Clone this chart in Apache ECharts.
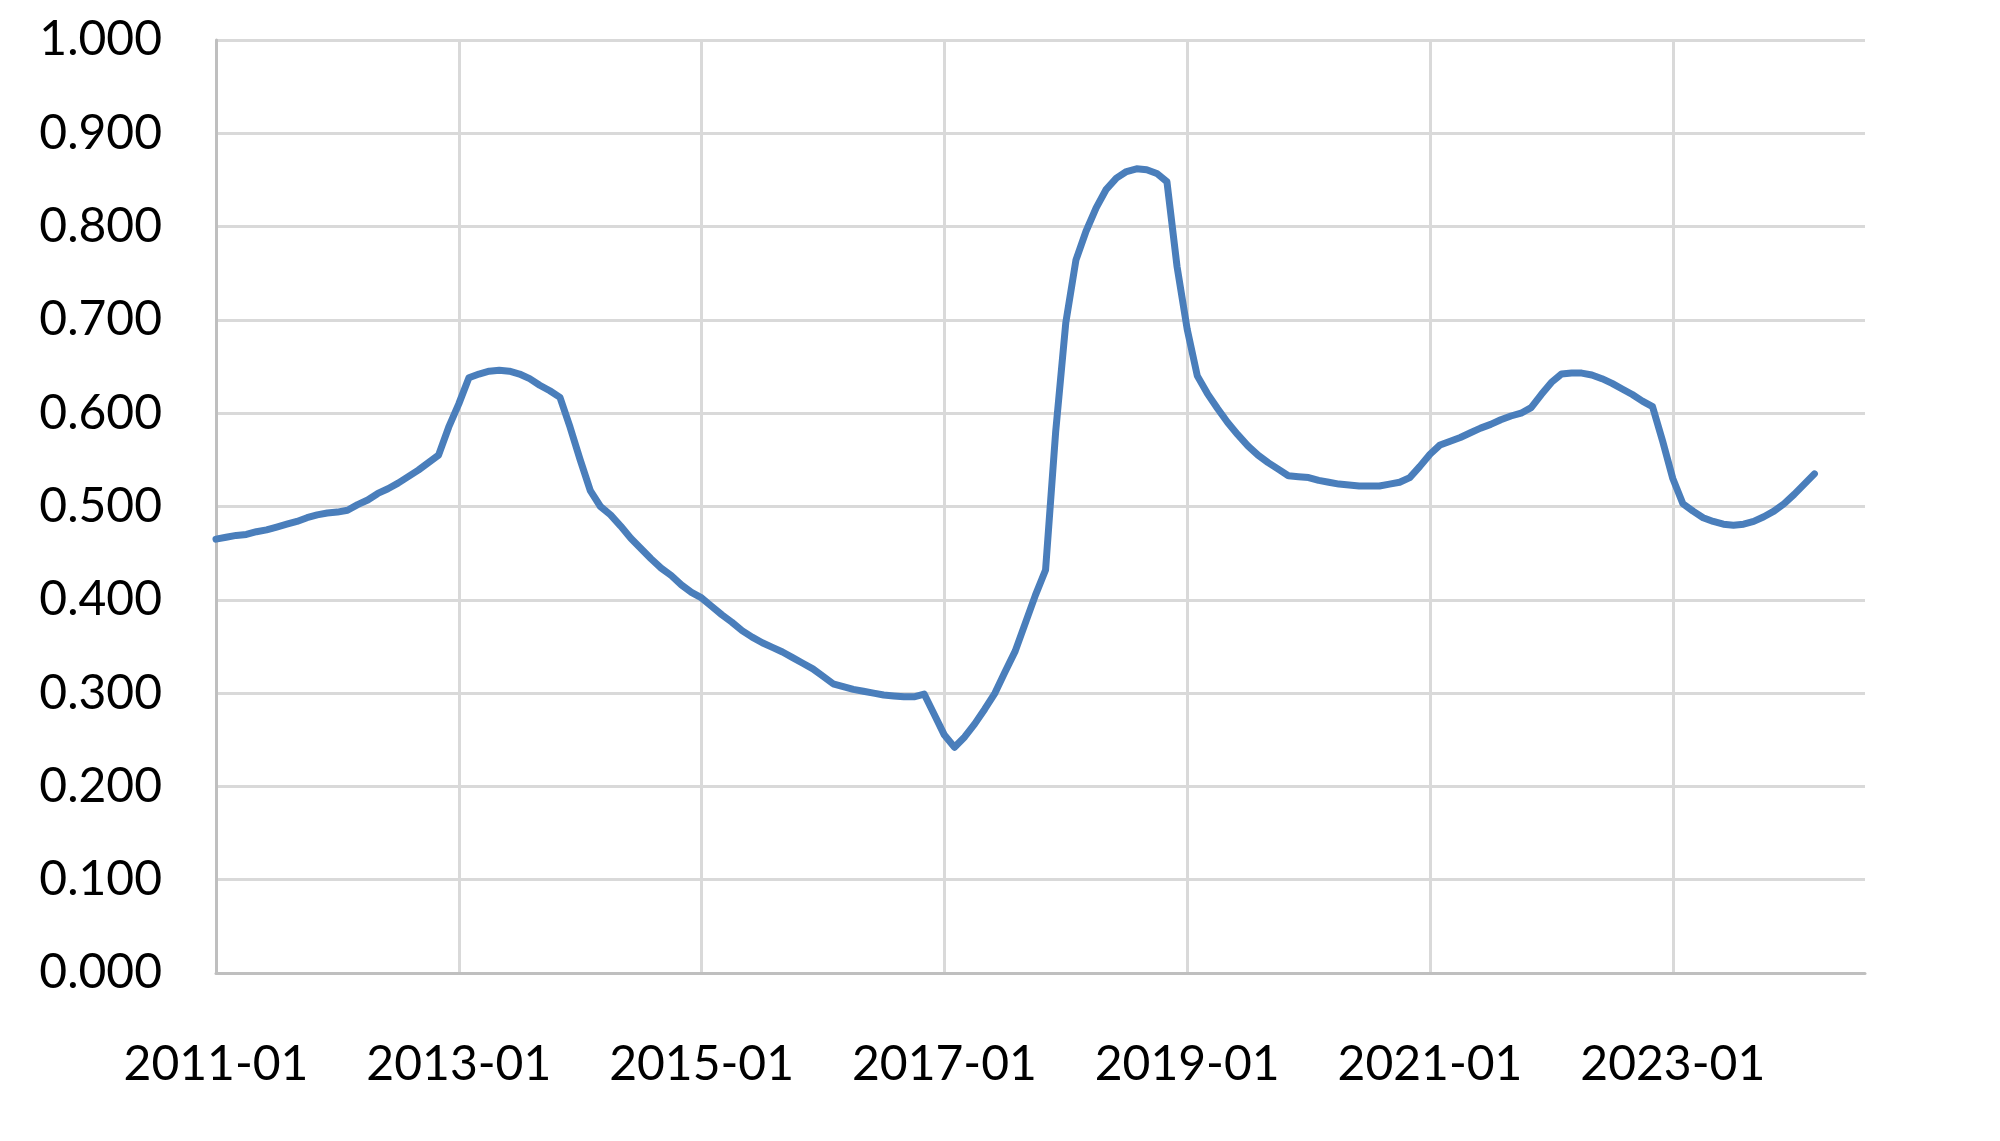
<!DOCTYPE html>
<html>
<head>
<meta charset="utf-8">
<script src="https://cdn.jsdelivr.net/npm/echarts@6/dist/echarts.min.js"></script>
<style>
  html, body { margin: 0; padding: 0; background: #ffffff; }
  #main { width: 2000px; height: 1141px; }
</style>
</head>
<body>
<div id="main"></div>
<script>
// monthly categories 2011-01 .. 2024-08
var startYear = 2011;
var monthCount = 164;
var categories = [];
for (var i = 0; i < monthCount; i++) {
  var y = startYear + Math.floor(i / 12);
  var m = (i % 12) + 1;
  categories.push(y + '-' + (m < 10 ? '0' + m : m));
}

// values, 2011-01 .. 2024-03
var values2011_2014 = [
  0.465, 0.467, 0.469, 0.470, 0.473, 0.475, 0.478, 0.481, 0.484, 0.488, 0.491, 0.493,
  0.494, 0.496, 0.502, 0.507, 0.514, 0.519, 0.525, 0.532, 0.539, 0.547, 0.555, 0.585,
  0.610, 0.638, 0.642, 0.645, 0.646, 0.645, 0.642, 0.637, 0.630, 0.624, 0.617, 0.585,
  0.550, 0.517, 0.500, 0.491, 0.479, 0.466, 0.455, 0.444, 0.434, 0.426, 0.416, 0.408
];
var values2015_2018 = [
  0.402, 0.393, 0.384, 0.376, 0.367, 0.360, 0.354, 0.349, 0.344, 0.338, 0.332, 0.326,
  0.318, 0.310, 0.307, 0.304, 0.302, 0.300, 0.298, 0.297, 0.296, 0.296, 0.299, 0.277,
  0.255, 0.242, 0.253, 0.267, 0.283, 0.300, 0.323, 0.345, 0.375, 0.405, 0.432, 0.580,
  0.697, 0.764, 0.795, 0.820, 0.840, 0.852, 0.859, 0.862, 0.861, 0.857, 0.848, 0.757
];
var values2019_2022 = [
  0.690, 0.640, 0.621, 0.605, 0.590, 0.577, 0.565, 0.555, 0.547, 0.540, 0.533, 0.532,
  0.531, 0.528, 0.526, 0.524, 0.523, 0.522, 0.522, 0.522, 0.524, 0.526, 0.531, 0.543,
  0.556, 0.566, 0.570, 0.574, 0.579, 0.584, 0.588, 0.593, 0.597, 0.600, 0.606, 0.620,
  0.633, 0.642, 0.643, 0.643, 0.641, 0.637, 0.632, 0.626, 0.620, 0.613, 0.607, 0.570
];
var values2023_2024 = [
  0.530, 0.503, 0.495, 0.488, 0.484, 0.481, 0.480, 0.481, 0.484, 0.489, 0.495, 0.503,
  0.513, 0.524, 0.535
];

var yTicks = { min: 0, max: 1, step: 0.1 };

var seriesData = values2011_2014.concat(values2015_2018, values2019_2022, values2023_2024);

var chart = echarts.init(document.getElementById('main'), null, { renderer: 'canvas' });

var labelFont = {
  fontFamily: 'Lato',
  fontSize: 48,
  color: '#000000'
};

var option = {
  backgroundColor: '#ffffff',
  animation: false,
  grid: {
    left: 216,
    right: 135,
    top: 40,
    bottom: 168,
    containLabel: false
  },
  xAxis: {
    type: 'category',
    data: categories,
    boundaryGap: false,
    axisLine: { show: true, lineStyle: { color: '#bfbfbf', width: 3 } },
    axisTick: { show: false },
    axisLabel: Object.assign({ interval: 23, margin: 68 }, labelFont),
    splitLine: { show: true, interval: 23, lineStyle: { color: '#d9d9d9', width: 3 } }
  },
  yAxis: {
    type: 'value',
    min: yTicks.min,
    max: yTicks.max,
    interval: yTicks.step,
    axisLine: { show: true, lineStyle: { color: '#bfbfbf', width: 3 } },
    axisTick: { show: false },
    axisLabel: Object.assign({
      margin: 54,
      formatter: function (v) { return v.toFixed(3); }
    }, labelFont),
    splitLine: { show: true, lineStyle: { color: '#d9d9d9', width: 3 } }
  },
  series: [{
    type: 'line',
    data: seriesData,
    showSymbol: false,
    smooth: false,
    lineStyle: { color: '#4a7ebb', width: 7, cap: 'round', join: 'round' }
  }]
};

chart.setOption(option);
</script>
</body>
</html>
